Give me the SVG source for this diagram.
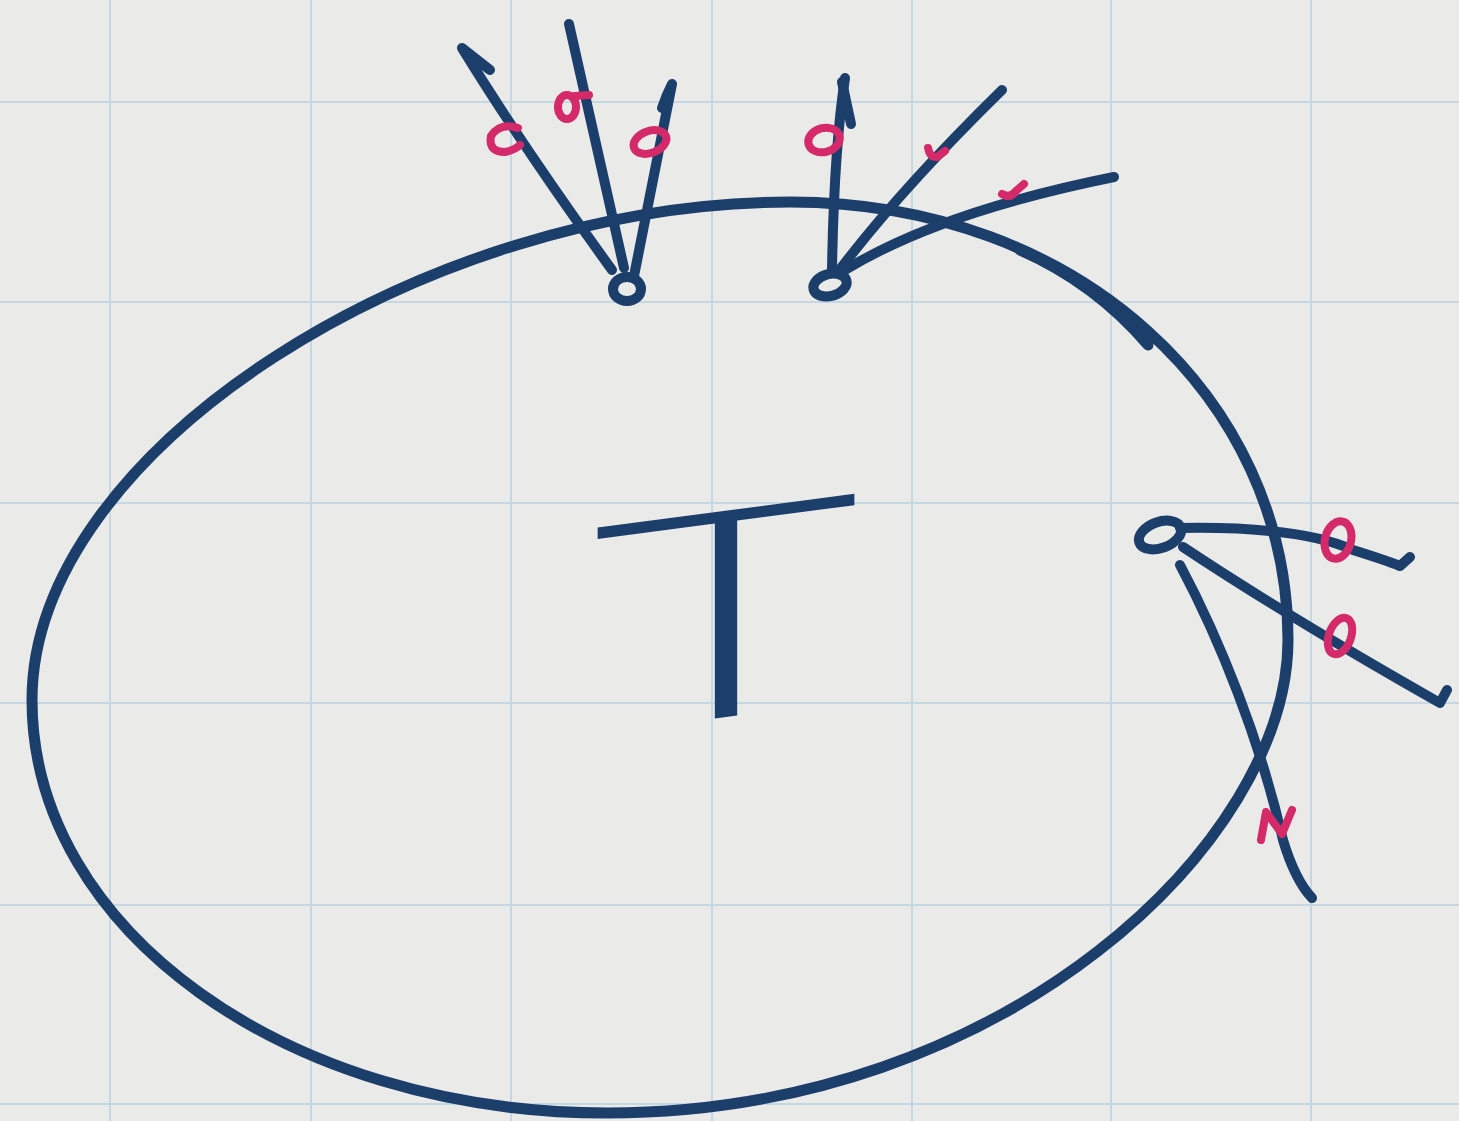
<svg xmlns="http://www.w3.org/2000/svg" width="1459" height="1121" viewBox="0 0 1459 1121">
<style>
.ink{fill:none;stroke:#1c3e6b;stroke-width:11;stroke-linecap:round;stroke-linejoin:round}
.edge{fill:none;stroke:#1c3e6b;stroke-width:10;stroke-linecap:round;stroke-linejoin:round}
.vtx{fill:none;stroke:#1c3e6b;stroke-width:10}
.pink{fill:none;stroke:#d42a6a;stroke-width:8;stroke-linecap:round;stroke-linejoin:round}
.grid line{stroke:#c4d7e3;stroke-width:2}
.label{font-family:"DejaVu Sans","Liberation Sans",sans-serif;font-weight:200;fill:#1c3e6b}
</style>
<rect width="1459" height="1121" fill="#eaeae8"/>
<g class="grid">
<line x1="110" y1="0" x2="110" y2="1121"/>
<line x1="311" y1="0" x2="311" y2="1121"/>
<line x1="511" y1="0" x2="511" y2="1121"/>
<line x1="712" y1="0" x2="712" y2="1121"/>
<line x1="912" y1="0" x2="912" y2="1121"/>
<line x1="1111" y1="0" x2="1111" y2="1121"/>
<line x1="1311" y1="0" x2="1311" y2="1121"/>
<line x1="0" y1="102" x2="1459" y2="102"/>
<line x1="0" y1="302" x2="1459" y2="302"/>
<line x1="0" y1="503" x2="1459" y2="503"/>
<line x1="0" y1="703" x2="1459" y2="703"/>
<line x1="0" y1="905" x2="1459" y2="905"/>
<line x1="0" y1="1104" x2="1459" y2="1104"/>
</g>
<g id="region-T">
<path class="ink" d="M 790 202 C 1080 202 1288 400 1288 640 C 1288 840 1007 1113 607 1113 C 287 1113 32 930 32 700 C 32 450 425 202 790 202 Z"/>
<path class="ink" stroke-width="8" d="M 1020 250 Q 1095 283 1148 345"/>
<text class="label" font-size="283" text-anchor="middle" transform="translate(726,717) skewY(-7.5) scale(1.6,1)">T</text>
</g>
<g id="connectors">
<path class="edge" d="M 612 270 Q 525 150 462 48 L 490 70"/>
<path class="edge" d="M 624 268 Q 595 140 569 24"/>
<path class="edge" d="M 634 276 L 672 84 Q 666 96 662 108"/>
<path class="edge" d="M 832 270 Q 834 150 845 78"/>
<path class="edge" stroke-width="15" d="M 842 82 L 851 124"/>
<path class="edge" d="M 838 272 Q 900 190 1002 90"/>
<path class="edge" d="M 845 270 Q 940 212 1114 177"/>
<path class="edge" d="M 1180 528 Q 1300 526 1353 550 Q 1385 560 1400 566 L 1410 557"/>
<path class="edge" d="M 1183 547 Q 1290 618 1440 703 L 1447 690"/>
<path class="edge" d="M 1180 565 C 1220 640 1260 740 1283 840 Q 1295 880 1312 898"/>
</g>
<g id="v1">
<ellipse class="vtx" cx="627" cy="289" rx="14" ry="12"/>
<path class="pink" stroke-width="10" d="M 518 128 Q 500 122 491 136 Q 488 152 505 152 Q 515 150 520 145"/>
<ellipse class="pink" cx="567" cy="107" rx="9" ry="12"/>
<path class="pink" d="M 575 96 L 589 95"/>
<ellipse class="pink" cx="650" cy="142" rx="17" ry="11" transform="rotate(-20 650 142)"/>
</g>
<g id="v2">
<ellipse class="vtx" cx="830" cy="285" rx="17" ry="11" transform="rotate(-15 830 285)"/>
<ellipse class="pink" cx="824" cy="140" rx="16" ry="12" transform="rotate(-15 824 140)"/>
<path class="pink" d="M 928 148 Q 930 158 937 157 L 945 151"/>
<path class="pink" stroke-width="10" d="M 1002 194 Q 1010 199 1016 191 L 1024 184"/>
</g>
<g id="v3">
<ellipse class="vtx" stroke-width="12" cx="1160" cy="535" rx="22" ry="13" transform="rotate(-20 1160 535)"/>
<ellipse class="pink" cx="1338" cy="540" rx="13" ry="19" transform="rotate(15 1338 540)"/>
<ellipse class="pink" cx="1340" cy="636" rx="11" ry="19" transform="rotate(20 1340 636)"/>
<path class="pink" d="M 1261 840 L 1266 812 L 1282 834 L 1292 810"/>
</g>
</svg>
